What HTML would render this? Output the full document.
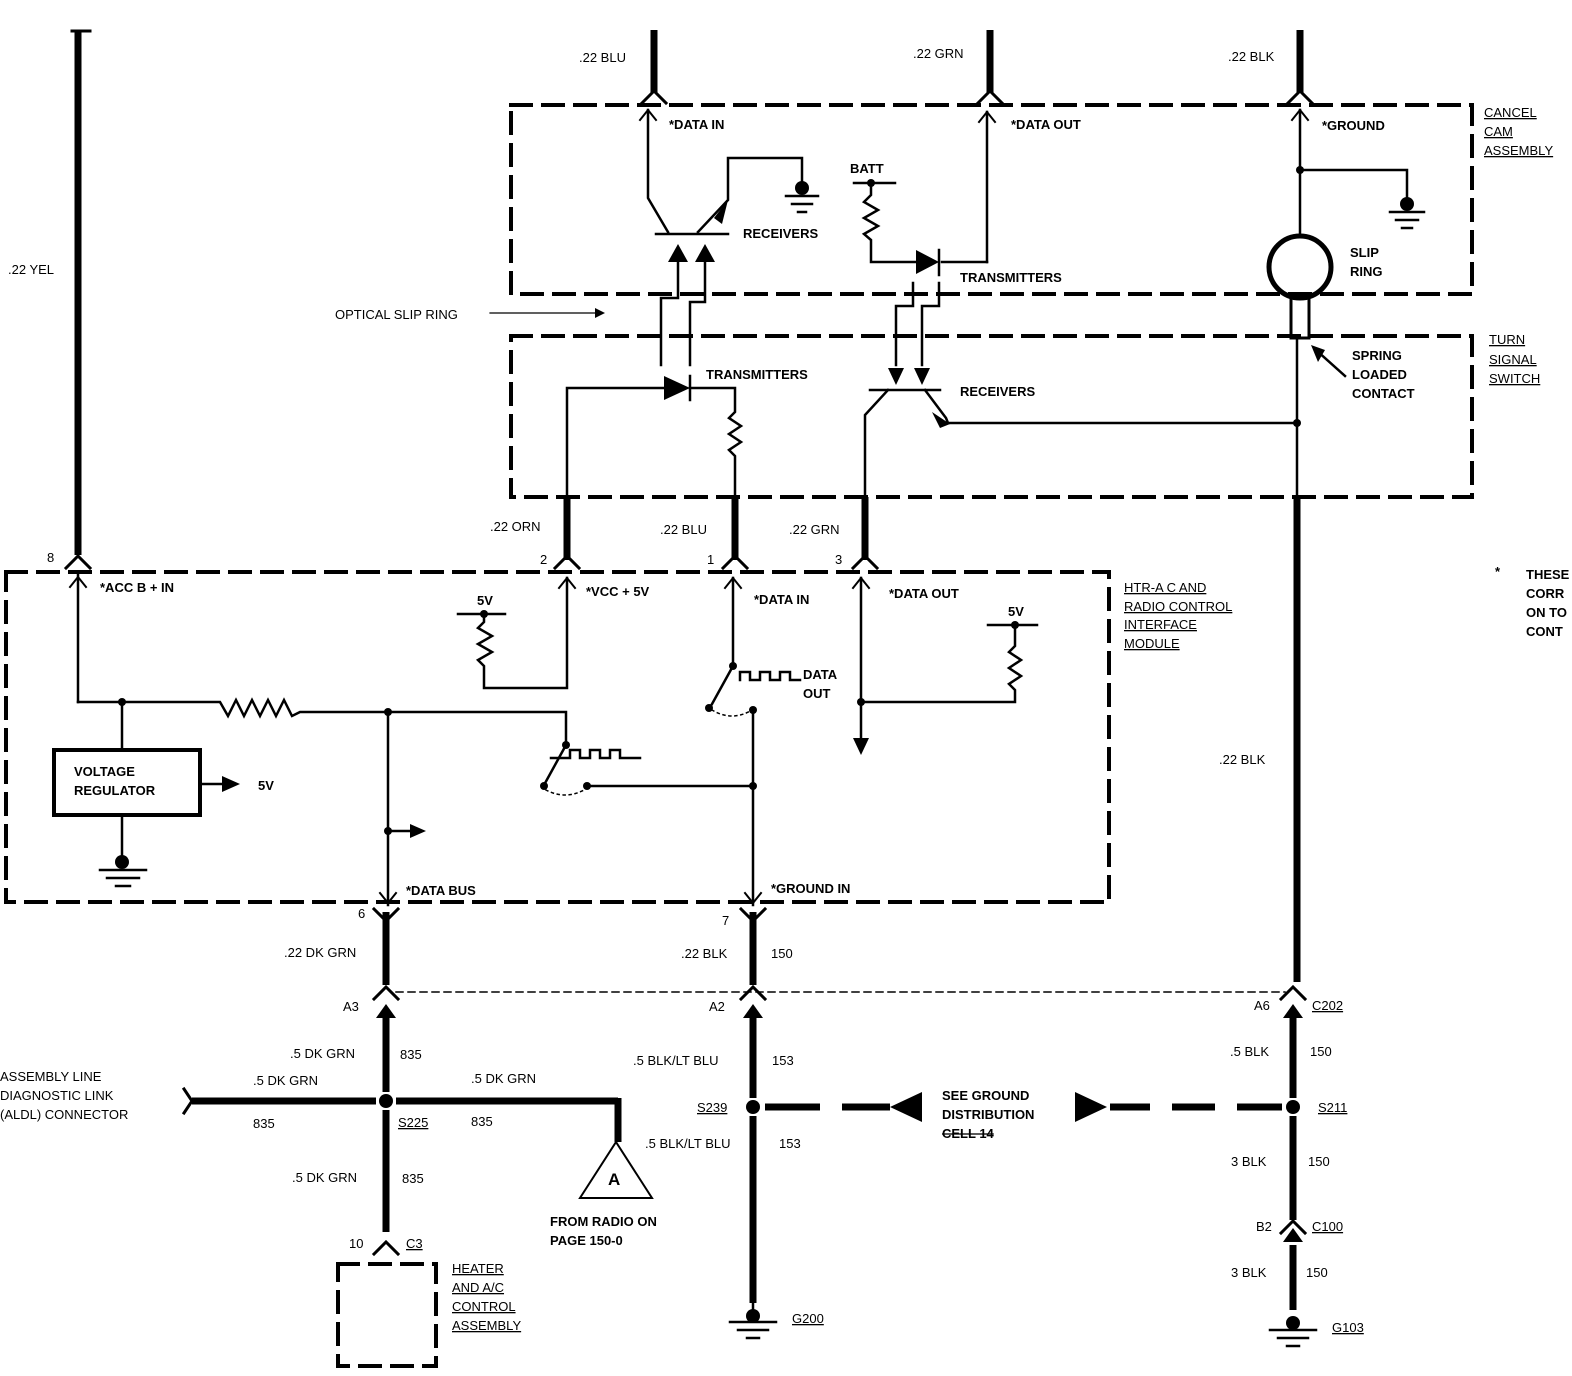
<!DOCTYPE html>
<html><head><meta charset="utf-8"><style>
html,body{margin:0;padding:0;background:#fff;}
svg{display:block;}
text{font-family:"Liberation Sans",sans-serif;font-size:13px;font-weight:bold;fill:#000;}
.t{font-weight:normal;}
</style></head><body>
<svg width="1572" height="1376" viewBox="0 0 1572 1376" xmlns="http://www.w3.org/2000/svg">
<g stroke="#000" fill="none" stroke-linecap="square">
<g stroke-width="4" stroke-dasharray="20 12">
<rect x="511" y="105" width="961" height="189"/>
<rect x="511" y="336" width="961" height="161"/>
<rect x="6" y="572" width="1103" height="330"/>
<rect x="338" y="1264" width="98" height="102"/>
</g>
<g stroke-width="7" stroke-linecap="butt">
<line x1="78" y1="30" x2="78" y2="555"/>
<line x1="654" y1="30" x2="654" y2="93"/>
<line x1="990" y1="30" x2="990" y2="93"/>
<line x1="1300" y1="30" x2="1300" y2="93"/>
<line x1="567" y1="497" x2="567" y2="560"/>
<line x1="735" y1="497" x2="735" y2="560"/>
<line x1="865" y1="497" x2="865" y2="560"/>
<line x1="1297" y1="497" x2="1297" y2="982"/>
<line x1="386" y1="912" x2="386" y2="985"/>
<line x1="753" y1="912" x2="753" y2="985"/>
<line x1="386" y1="1010" x2="386" y2="1092"/>
<line x1="386" y1="1110" x2="386" y2="1232"/>
<line x1="753" y1="1010" x2="753" y2="1098"/>
<line x1="753" y1="1116" x2="753" y2="1303"/>
<line x1="1293" y1="1010" x2="1293" y2="1098"/>
<line x1="1293" y1="1116" x2="1293" y2="1220"/>
<line x1="1293" y1="1245" x2="1293" y2="1310"/>
<line x1="192" y1="1101" x2="376" y2="1101"/>
<line x1="396" y1="1101" x2="618" y2="1101"/>
<line x1="618" y1="1098" x2="618" y2="1142"/>
</g>
<line x1="72" y1="31" x2="90" y2="31" stroke-width="3"/>
<g stroke-width="7" stroke-linecap="butt">
<line x1="765" y1="1107" x2="820" y2="1107"/><line x1="842" y1="1107" x2="890" y2="1107"/>
<line x1="1110" y1="1107" x2="1150" y2="1107"/><line x1="1172" y1="1107" x2="1215" y2="1107"/><line x1="1237" y1="1107" x2="1282" y2="1107"/>
</g>
<polygon points="890,1107 922,1092 922,1122" fill="#000" stroke="none"/>
<polygon points="1107,1107 1075,1092 1075,1122" fill="#000" stroke="none"/>
<line x1="396" y1="992" x2="1285" y2="992" stroke-width="1.5" stroke-dasharray="7 5"/>
<g stroke-width="3">
<polyline points="642,103 654,91 666,103"/><polyline points="978,103 990,91 1002,103"/><polyline points="1288,103 1300,91 1312,103"/>
<polyline points="66,568 78,556 90,568"/><polyline points="555,568 567,556 579,568"/><polyline points="723,568 735,556 747,568"/><polyline points="853,568 865,556 877,568"/>
<polyline points="374,909 386,921 398,909"/><polyline points="741,909 753,921 765,909"/>
<polyline points="374,999 386,987 398,999"/><polyline points="741,999 753,987 765,999"/><polyline points="1281,999 1293,987 1305,999"/>
<polyline points="374,1254 386,1242 398,1254"/><polyline points="1281,1233 1293,1221 1305,1233"/>
<polyline points="184,1089 192,1101 184,1113"/>
</g>
<g fill="#000" stroke="none">
<polygon points="386,1004 376,1018 396,1018"/><polygon points="753,1004 743,1018 763,1018"/><polygon points="1293,1004 1283,1018 1303,1018"/><polygon points="1293,1228 1283,1242 1303,1242"/>
</g>
<g stroke-width="2.5">
<polyline points="648,110 648,198 668,232"/>
<line x1="656" y1="234" x2="728" y2="234"/>
<polyline points="698,232 728,200 728,158 802,158 802,182"/>
<polyline points="786,196 818,196"/><line x1="792" y1="204" x2="812" y2="204"/><line x1="798" y1="212" x2="806" y2="212"/>
<line x1="854" y1="183" x2="895" y2="183"/>
<polyline points="871,183 871,195 864,202 878,210 864,218 878,226 864,234 871,240 871,262 916,262"/>
<line x1="942" y1="262" x2="987" y2="262"/><line x1="987" y1="262" x2="987" y2="112"/>
<line x1="939" y1="250" x2="939" y2="275"/>
<polyline points="913,283 913,306 896,306 896,365"/><polyline points="939,283 939,306 922,306 922,365"/>
<polyline points="678,262 678,298 661,298 661,365"/><polyline points="705,262 705,302 690,302 690,365"/>
<line x1="490" y1="313" x2="595" y2="313" stroke-width="1.2"/>
<line x1="1300" y1="110" x2="1300" y2="237"/>
<polyline points="1300,170 1407,170 1407,200"/>
<line x1="1390" y1="212" x2="1424" y2="212"/><line x1="1396" y1="220" x2="1418" y2="220"/><line x1="1402" y1="228" x2="1412" y2="228"/>
<polyline points="567,497 567,388 664,388"/><line x1="690" y1="376" x2="690" y2="400"/>
<polyline points="690,388 735,388 735,412 729,418 741,426 729,434 741,442 729,450 735,456 735,497"/>
<line x1="870" y1="390" x2="940" y2="390"/>
<polyline points="865,497 865,415 888,390"/>
<polyline points="925,390 946,418 948,423 1297,423"/>
<line x1="1297" y1="340" x2="1297" y2="497"/>
<line x1="1345" y1="376" x2="1316" y2="350"/>
<line x1="78" y1="575" x2="78" y2="702"/>
<polyline points="78,702 220,702 228,716 236,700 244,716 252,700 260,716 268,700 276,716 284,700 292,716 300,712 566,712 566,745"/>
<line x1="122" y1="702" x2="122" y2="750"/>
<line x1="122" y1="815" x2="122" y2="858"/>
<line x1="100" y1="870" x2="146" y2="870"/><line x1="107" y1="878" x2="139" y2="878"/><line x1="116" y1="886" x2="130" y2="886"/>
<line x1="201" y1="784" x2="222" y2="784"/>
<line x1="388" y1="712" x2="388" y2="905"/>
<line x1="388" y1="831" x2="410" y2="831"/>
<line x1="458" y1="614" x2="505" y2="614"/>
<polyline points="484,614 484,622 478,628 492,636 478,644 492,652 478,660 484,666 484,688 567,688 567,578"/>
<line x1="566" y1="745" x2="544" y2="785"/>
<polyline points="551,758 570,758 570,750 580,750 580,758 590,758 590,750 600,750 600,758 610,758 610,750 620,750 620,758 640,758"/>
<line x1="587" y1="786" x2="753" y2="786"/>
<path d="M546,790 Q565,800 584,790" stroke-dasharray="2 4" stroke-width="1.5"/>
<line x1="733" y1="578" x2="733" y2="666"/>
<line x1="733" y1="666" x2="712" y2="704"/>
<polyline points="740,680 740,672 750,672 750,680 760,680 760,672 770,672 770,680 780,680 780,672 790,672 790,680 800,680"/>
<path d="M712,710 Q732,722 752,710" stroke-dasharray="2 4" stroke-width="1.5"/>
<line x1="753" y1="710" x2="753" y2="905"/>
<line x1="861" y1="578" x2="861" y2="740"/>
<polyline points="861,702 1015,702 1015,690 1009,684 1021,676 1009,668 1021,660 1009,652 1015,646 1015,625"/>
<line x1="988" y1="625" x2="1037" y2="625"/>
<line x1="753" y1="1303" x2="753" y2="1316"/>
<line x1="730" y1="1322" x2="776" y2="1322"/><line x1="738" y1="1330" x2="768" y2="1330"/><line x1="747" y1="1338" x2="759" y2="1338"/>
<line x1="1270" y1="1330" x2="1316" y2="1330"/><line x1="1278" y1="1338" x2="1308" y2="1338"/><line x1="1287" y1="1346" x2="1299" y2="1346"/>
</g>
<g stroke-width="2">
<polyline points="640,120 648,110 656,120"/><polyline points="979,122 987,112 995,122"/><polyline points="1292,120 1300,110 1308,120"/>
<polyline points="70,587 78,577 86,587"/><polyline points="559,588 567,578 575,588"/><polyline points="725,588 733,578 741,588"/><polyline points="853,588 861,578 869,588"/>
<polyline points="380,893 388,903 396,893"/><polyline points="745,893 753,903 761,893"/>
</g>
<rect x="54" y="750" width="146" height="65" stroke-width="4"/>
<circle cx="1300" cy="267" r="31" stroke-width="5"/>
<rect x="1291" y="298" width="18" height="40" stroke-width="3"/>
</g>
<g fill="#000" stroke="none">
<polygon points="668,262 678,244 688,262"/><polygon points="695,262 705,244 715,262"/>
<polygon points="714,218 728,200 722,224"/>
<polygon points="916,250 916,274 939,262"/>
<polygon points="664,376 664,400 690,388"/>
<polygon points="888,368 896,385 904,368"/><polygon points="914,368 922,385 930,368"/>
<polygon points="932,412 950,424 940,428"/>
<polygon points="595,308 605,313 595,318"/>
<polygon points="1311,345 1325,350 1318,362"/>
<polygon points="222,776 240,784 222,792"/><polygon points="410,824 426,831 410,838"/>
<polygon points="853,738 869,738 861,755"/>
<circle cx="122" cy="702" r="4"/><circle cx="388" cy="712" r="4"/><circle cx="388" cy="831" r="4"/>
<circle cx="566" cy="745" r="4"/><circle cx="544" cy="786" r="4"/><circle cx="587" cy="786" r="4"/><circle cx="753" cy="786" r="4"/>
<circle cx="733" cy="666" r="4"/><circle cx="709" cy="708" r="4"/><circle cx="753" cy="710" r="4"/><circle cx="861" cy="702" r="4"/>
<circle cx="484" cy="614" r="4"/><circle cx="1015" cy="625" r="4"/><circle cx="871" cy="183" r="4"/>
<circle cx="1300" cy="170" r="4"/><circle cx="1297" cy="423" r="4"/>
<circle cx="802" cy="188" r="7"/><circle cx="1407" cy="204" r="7"/><circle cx="122" cy="862" r="7"/>
<circle cx="753" cy="1316" r="7"/><circle cx="1293" cy="1323" r="7"/>
<circle cx="386" cy="1101" r="7"/><circle cx="753" cy="1107" r="7"/><circle cx="1293" cy="1107" r="7"/>
</g>
<polygon points="616,1142 580,1198 652,1198" fill="#fff" stroke="#000" stroke-width="2"/>
<text x="8" y="274" class="t">.22 YEL</text>
<text x="579" y="62" class="t">.22 BLU</text>
<text x="913" y="58" class="t">.22 GRN</text>
<text x="1228" y="61" class="t">.22 BLK</text>
<text x="669" y="129">*DATA IN</text>
<text x="1011" y="129">*DATA OUT</text>
<text x="1322" y="130">*GROUND</text>
<text x="1484" y="117" text-decoration="underline" class="t">CANCEL</text>
<text x="1484" y="136" text-decoration="underline" class="t">CAM</text>
<text x="1484" y="155" text-decoration="underline" class="t">ASSEMBLY</text>
<text x="850" y="173">BATT</text>
<text x="743" y="238">RECEIVERS</text>
<text x="960" y="282">TRANSMITTERS</text>
<text x="1350" y="257">SLIP</text>
<text x="1350" y="276">RING</text>
<text x="335" y="319" class="t">OPTICAL SLIP RING</text>
<text x="706" y="379">TRANSMITTERS</text>
<text x="960" y="396">RECEIVERS</text>
<text x="1352" y="360">SPRING</text>
<text x="1352" y="379">LOADED</text>
<text x="1352" y="398">CONTACT</text>
<text x="1489" y="344" text-decoration="underline" class="t">TURN</text>
<text x="1489" y="364" text-decoration="underline" class="t">SIGNAL</text>
<text x="1489" y="383" text-decoration="underline" class="t">SWITCH</text>
<text x="1495" y="576">*</text>
<text x="1526" y="579">THESE</text><text x="1526" y="598">CORR</text><text x="1526" y="617">ON TO</text><text x="1526" y="636">CONT</text>
<text x="490" y="531" class="t">.22 ORN</text>
<text x="660" y="534" class="t">.22 BLU</text>
<text x="789" y="534" class="t">.22 GRN</text>
<text x="47" y="562" class="t">8</text><text x="540" y="564" class="t">2</text><text x="707" y="564" class="t">1</text><text x="835" y="564" class="t">3</text>
<text x="100" y="592">*ACC B + IN</text>
<text x="586" y="596">*VCC + 5V</text>
<text x="754" y="604">*DATA IN</text>
<text x="889" y="598">*DATA OUT</text>
<text x="1124" y="592" text-decoration="underline" class="t">HTR-A C AND</text>
<text x="1124" y="611" text-decoration="underline" class="t">RADIO CONTROL</text>
<text x="1124" y="629" text-decoration="underline" class="t">INTERFACE</text>
<text x="1124" y="648" text-decoration="underline" class="t">MODULE</text>
<text x="477" y="605">5V</text><text x="1008" y="616">5V</text>
<text x="803" y="679">DATA</text><text x="803" y="698">OUT</text>
<text x="74" y="776">VOLTAGE</text><text x="74" y="795">REGULATOR</text>
<text x="258" y="790">5V</text>
<text x="406" y="895">*DATA BUS</text>
<text x="771" y="893">*GROUND IN</text>
<text x="1219" y="764" class="t">.22 BLK</text>
<text x="358" y="918" class="t">6</text><text x="722" y="925" class="t">7</text>
<text x="284" y="957" class="t">.22 DK GRN</text>
<text x="681" y="958" class="t">.22 BLK</text><text x="771" y="958" class="t">150</text>
<text x="343" y="1011" class="t">A3</text><text x="709" y="1011" class="t">A2</text><text x="1254" y="1010" class="t">A6</text>
<text x="1312" y="1010" text-decoration="underline" class="t">C202</text>
<text x="290" y="1058" class="t">.5 DK GRN</text><text x="400" y="1059" class="t">835</text>
<text x="633" y="1065" class="t">.5 BLK/LT BLU</text><text x="772" y="1065" class="t">153</text>
<text x="1230" y="1056" class="t">.5 BLK</text><text x="1310" y="1056" class="t">150</text>
<text x="0" y="1081" class="t">ASSEMBLY LINE</text>
<text x="0" y="1100" class="t">DIAGNOSTIC LINK</text>
<text x="0" y="1119" class="t">(ALDL) CONNECTOR</text>
<text x="253" y="1085" class="t">.5 DK GRN</text><text x="471" y="1083" class="t">.5 DK GRN</text>
<text x="253" y="1128" class="t">835</text><text x="471" y="1126" class="t">835</text>
<text x="398" y="1127" text-decoration="underline" class="t">S225</text>
<text x="697" y="1112" text-decoration="underline" class="t">S239</text>
<text x="1318" y="1112" text-decoration="underline" class="t">S211</text>
<text x="942" y="1100">SEE GROUND</text>
<text x="942" y="1119">DISTRIBUTION</text>
<text x="942" y="1138" text-decoration="line-through">CELL 14</text>
<text x="645" y="1148" class="t">.5 BLK/LT BLU</text><text x="779" y="1148" class="t">153</text>
<text x="1231" y="1166" class="t">3 BLK</text><text x="1308" y="1166" class="t">150</text>
<text x="292" y="1182" class="t">.5 DK GRN</text><text x="402" y="1183" class="t">835</text>
<text x="608" y="1185" style="font-size:17px">A</text>
<text x="550" y="1226">FROM RADIO ON</text>
<text x="550" y="1245">PAGE 150-0</text>
<text x="1256" y="1231" class="t">B2</text>
<text x="1312" y="1231" text-decoration="underline" class="t">C100</text>
<text x="349" y="1248" class="t">10</text>
<text x="406" y="1248" text-decoration="underline" class="t">C3</text>
<text x="1231" y="1277" class="t">3 BLK</text><text x="1306" y="1277" class="t">150</text>
<text x="452" y="1273" text-decoration="underline" class="t">HEATER</text>
<text x="452" y="1292" text-decoration="underline" class="t">AND A/C</text>
<text x="452" y="1311" text-decoration="underline" class="t">CONTROL</text>
<text x="452" y="1330" text-decoration="underline" class="t">ASSEMBLY</text>
<text x="792" y="1323" text-decoration="underline" class="t">G200</text>
<text x="1332" y="1332" text-decoration="underline" class="t">G103</text>
</svg>
</body></html>
